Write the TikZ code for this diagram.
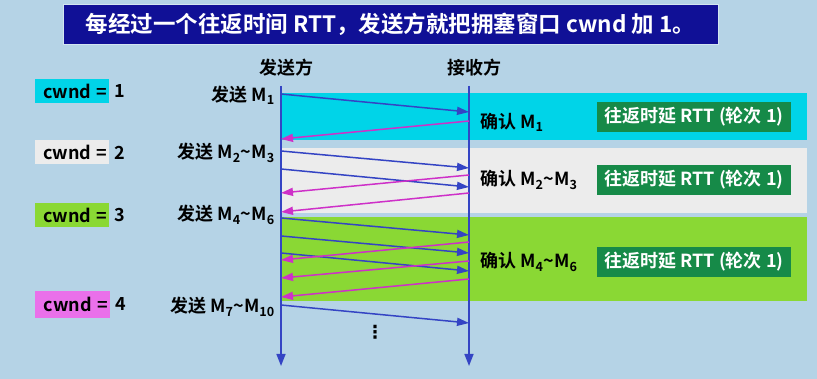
\documentclass[tikz,border=0pt]{standalone}
\usepackage{fontspec}
\setmainfont{Noto Sans CJK SC}[BoldFont={Noto Sans CJK SC Bold}]
\newfontfamily\symfont{DejaVu Sans}
\usetikzlibrary{arrows.meta}

\definecolor{bgblue}{RGB}{181,211,230}
\definecolor{titleblue}{RGB}{16,16,150}
\definecolor{bandcyan}{RGB}{0,212,232}
\definecolor{bandgray}{RGB}{236,236,236}
\definecolor{bandgreen}{RGB}{138,216,52}
\definecolor{boxpink}{RGB}{234,112,234}
\definecolor{rttgreen}{RGB}{22,138,72}
\definecolor{linkblue}{RGB}{52,68,196}
\definecolor{ackpink}{RGB}{206,48,200}

\newcommand{\mseg}[1]{M\textsubscript{#1}}
\newcommand{\tld}{\textasciitilde}

\begin{document}
\begin{tikzpicture}[x=1pt, y=-1pt,
    txt/.style={font=\bfseries\fontsize{18}{21}\selectfont, inner sep=0pt},
    cwndbox/.style={txt, minimum width=74pt, minimum height=24pt, text width=71pt, align=right},
    rttbox/.style={txt, fill=rttgreen, text=white, minimum width=194pt, minimum height=30pt},
    lifeline/.style={draw=linkblue, line width=1.6pt, -{Triangle[length=12pt,width=9pt]}},
    sendarrow/.style={draw=linkblue, line width=1.5pt, -{Triangle[length=12pt,width=8pt]}},
    ackarrow/.style={draw=ackpink, line width=1.5pt, -{Triangle[length=12pt,width=8pt]}}]

        \useasboundingbox[fill=bgblue] (0,0) rectangle (817,379);

        \node[fill=titleblue, draw=bgblue!60!white, line width=0.6pt, minimum width=655pt, minimum height=40pt, text=white, font=\bfseries\fontsize{22.5}{26}\selectfont] (title) at (390.5,24) {每经过一个往返时间 RTT，发送方就把拥塞窗口 cwnd 加 1。};

        \fill[bandcyan] (281,93) rectangle (807,140);
        \fill[bandgray] (281,148) rectangle (807,213);
        \fill[bandgreen] (281,217) rectangle (807,301);

        \node[txt] (sender) at (286,68) {发送方};
        \node[txt] (receiver) at (474,68) {接收方};

        \coordinate (sTop) at (281,86);
        \coordinate (sEnd) at (281,366);
        \coordinate (rTop) at (469,86);
        \coordinate (rEnd) at (469,366);
        \draw[lifeline] (sTop) -- (sEnd);
        \draw[lifeline] (rTop) -- (rEnd);

        \foreach \n/\ya/\yb in {1/94/112, 2/151/168, 3/169/187, 4/218/235, 5/236/253, 6/253/271, 7/305/323} {
            \coordinate (s\n) at (281,\ya);
            \coordinate (r\n) at (469,\yb);
            \draw[sendarrow] (s\n) -- (r\n);
        }
        \foreach \n/\ya/\yb in {1/121/139, 2/175/193, 3/193/212, 4/242/260, 5/261/278, 6/279/297} {
            \coordinate (ra\n) at (469,\ya);
            \coordinate (sa\n) at (281,\yb);
            \draw[ackarrow] (ra\n) -- (sa\n);
        }

        \node[cwndbox, fill=bandcyan] (cw1) at (72,91) {cwnd\hspace{0.3em}=};
        \node[cwndbox, fill=bandgray] (cw2) at (72,152.5) {cwnd\hspace{0.3em}=};
        \node[cwndbox, fill=bandgreen] (cw3) at (72,215.5) {cwnd\hspace{0.3em}=};
        \node[cwndbox, fill=boxpink, minimum width=75pt, minimum height=27pt] (cw4) at (72.5,304.5) {cwnd\hspace{0.3em}=};
        \node[txt, anchor=west] (num1) at (114,91) {1};
        \node[txt, anchor=west] (num2) at (114,152.5) {2};
        \node[txt, anchor=west] (num3) at (114,215.5) {3};
        \node[txt, anchor=west] (num4) at (115,304.5) {4};

        \node[txt, anchor=east] (snd1) at (275,95) {发送 \mseg{1}};
        \node[txt, anchor=east] (snd2) at (275,153) {发送 \mseg{2}\tld\mseg{3}};
        \node[txt, anchor=east] (snd3) at (275,215) {发送 \mseg{4}\tld\mseg{6}};
        \node[txt, anchor=east] (snd4) at (275,307) {发送 \mseg{7}\tld\mseg{10}};

        \node[txt, anchor=west] (ack1) at (480,122) {确认 \mseg{1}};
        \node[txt, anchor=west] (ack2) at (480,180) {确认 \mseg{2}\tld\mseg{3}};
        \node[txt, anchor=west] (ack3) at (480,262) {确认 \mseg{4}\tld\mseg{6}};

        \node[rttbox] (rtt1) at (694,117) {往返时延 RTT (轮次 1)};
        \node[rttbox] (rtt2) at (694,180) {往返时延 RTT (轮次 1)};
        \node[rttbox] (rtt3) at (694,262) {往返时延 RTT (轮次 1)};

        \node[txt] (more) at (375,332) {\symfont ⋮};
    \end{tikzpicture}
\end{document}
